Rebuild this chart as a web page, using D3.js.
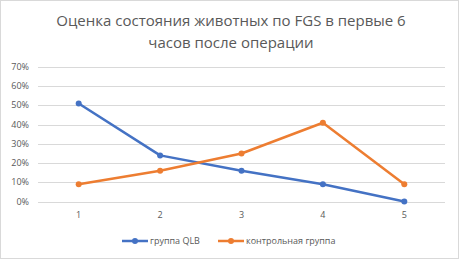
<!DOCTYPE html>
<html>
<head>
<meta charset="utf-8">
<script src="https://cdn.jsdelivr.net/npm/d3@7"></script>
<style>
  body { margin: 0; background: #fff; }
  svg { display: block; font-family: "Open Sans", "Noto Sans", sans-serif; }
</style>
</head>
<body>
<div id="chart"></div>
<script>
// data
const categories = ["1", "2", "3", "4", "5"];
const qlbValues = [0.51, 0.24, 0.16, 0.09, 0.00];
const controlValues = [0.09, 0.16, 0.25, 0.41, 0.09];
const yTicks = [0, 0.1, 0.2, 0.3, 0.4, 0.5, 0.6, 0.7];
const titleLines = ["Оценка состояния животных по FGS в первые 6", "часов после операции"];
const seriesNames = ["группа QLB", "контрольная группа"];
const seriesColors = ["#4472C4", "#ED7D31"];

const width = 459, height = 259;
const margin = { top: 67, right: 14, bottom: 57, left: 38 };

const svg = d3.select("#chart").append("svg")
  .attr("width", width)
  .attr("height", height);

svg.append("rect")
  .attr("x", 0.5).attr("y", 0.5)
  .attr("width", width - 1).attr("height", height - 1)
  .attr("fill", "#fff")
  .attr("stroke", "#d9d9d9");

svg.selectAll(".title")
  .data(titleLines)
  .join("text")
  .attr("class", "title")
  .attr("x", 231)
  .attr("y", (d, i) => 26 + i * 22)
  .attr("text-anchor", "middle")
  .attr("font-size", "15px")
  .attr("fill", "#595959")
  .text(d => d);

const x = d3.scaleBand()
  .domain(categories)
  .range([margin.left, width - margin.right]);

const y = d3.scaleLinear()
  .domain([0, 0.7])
  .range([height - margin.bottom - 0.5, margin.top]);

// gridlines
svg.append("g")
  .selectAll("line")
  .data(yTicks)
  .join("line")
  .attr("x1", margin.left)
  .attr("x2", width - margin.right)
  .attr("y1", d => Math.round(y(d)) + 0.5)
  .attr("y2", d => Math.round(y(d)) + 0.5)
  .attr("stroke", "#d9d9d9")
  .attr("stroke-width", 1);

// y labels
svg.append("g")
  .selectAll("text")
  .data(yTicks)
  .join("text")
  .attr("x", 29)
  .attr("y", d => y(d) + 3)
  .attr("text-anchor", "end")
  .attr("font-size", "9px")
  .attr("fill", "#595959")
  .text(d => d3.format(".0%")(d));

// x labels
svg.append("g")
  .selectAll("text")
  .data(categories)
  .join("text")
  .attr("x", d => x(d) + x.bandwidth() / 2)
  .attr("y", 218)
  .attr("text-anchor", "middle")
  .attr("font-size", "9px")
  .attr("fill", "#595959")
  .text(d => d);

const series = [qlbValues, controlValues];
const line = d3.line()
  .x((d, i) => x(categories[i]) + x.bandwidth() / 2)
  .y(d => y(d));

series.forEach((vals, s) => {
  const g = svg.append("g");
  g.append("path")
    .datum(vals)
    .attr("d", line)
    .attr("fill", "none")
    .attr("stroke", seriesColors[s])
    .attr("stroke-width", 2.5)
    .attr("stroke-linejoin", "round")
    .attr("stroke-linecap", "round");
  g.selectAll("circle")
    .data(vals)
    .join("circle")
    .attr("cx", (d, i) => x(categories[i]) + x.bandwidth() / 2)
    .attr("cy", d => y(d))
    .attr("r", 3)
    .attr("fill", seriesColors[s]);
});

// legend
const legendX = [122, 218];
const legend = svg.append("g");
seriesNames.forEach((name, i) => {
  const lx = legendX[i];
  legend.append("line")
    .attr("x1", lx).attr("x2", lx + 26)
    .attr("y1", 241).attr("y2", 241)
    .attr("stroke", seriesColors[i])
    .attr("stroke-width", 2.5);
  legend.append("circle")
    .attr("cx", lx + 13).attr("cy", 241).attr("r", 3)
    .attr("fill", seriesColors[i]);
  legend.append("text")
    .attr("x", lx + 28)
    .attr("y", 244)
    .attr("font-size", "9px")
    .attr("fill", "#595959")
    .text(name);
});
</script>
</body>
</html>
